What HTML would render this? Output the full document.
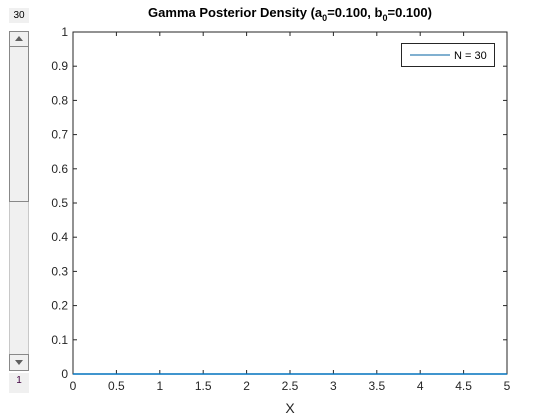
<!DOCTYPE html>
<html><head><meta charset="utf-8"><style>
body{margin:0;background:#fff;width:560px;height:420px;overflow:hidden;font-family:"Liberation Sans",sans-serif}
#wrap{position:relative;width:560px;height:420px;background:#fff}
.lbl{position:absolute;background:#f0f0f0;font-size:10px;text-align:center}
</style></head><body>
<div id="wrap">
<div class="lbl" style="left:9px;top:8px;width:20px;height:15px;line-height:15px">30</div>
<div class="lbl" style="left:9px;top:373px;width:20px;height:20px;line-height:16px;color:#400040">1</div>
<svg style="position:absolute;left:9px;top:31px" width="20" height="340">
<rect x="0" y="0" width="20" height="340" fill="#f0f0f0" stroke="#a0a0a0"/>
<rect x="0.5" y="0.5" width="19" height="15" fill="#f0f0f0" stroke="#888"/>
<polygon points="6,10 14,10 10,5" fill="#606060"/>
<rect x="0.5" y="15.5" width="19" height="155" fill="#f0f0f0" stroke="#888"/>
<rect x="0.5" y="323.5" width="19" height="16" fill="#f0f0f0" stroke="#888"/>
<polygon points="6,329 14,329 10,334" fill="#606060"/>
</svg>
<svg id="chart" width="560" height="420" style="position:absolute;left:0;top:0;pointer-events:none"></svg>
</div>
<script>
const xTicks=[0,0.5,1,1.5,2,2.5,3,3.5,4,4.5,5];
const xTickLabels=["0","0.5","1","1.5","2","2.5","3","3.5","4","4.5","5"];
const yTicks=[0,0.1,0.2,0.3,0.4,0.5,0.6,0.7,0.8,0.9,1];
const yTickLabels=["0","0.1","0.2","0.3","0.4","0.5","0.6","0.7","0.8","0.9","1"];
const seriesX=[0,0.5,1,1.5,2,2.5,3,3.5,4,4.5,5];
const seriesY=[0,0,0,0,0,0,0,0,0,0,0];
const L=73,R=507,T=32,B=374;
const sx=v=>L+(v-0)/(5-0)*(R-L);
const sy=v=>B-(v-0)/(1-0)*(B-T);
const svg=document.getElementById('chart');const NS='http://www.w3.org/2000/svg';
function mk(t,a,p){const e=document.createElementNS(NS,t);for(const k in a)e.setAttribute(k,a[k]);(p||svg).appendChild(e);return e;}
let e=mk('rect',{x:L,y:T,width:R-L,height:B-T,fill:'#fff',stroke:'#262626','stroke-width':1});


xTicks.forEach((v,i)=>{const x=sx(v);
mk('line',{x1:x,x2:x,y1:B,y2:B-4,stroke:'#262626'});mk('line',{x1:x,x2:x,y1:T,y2:T+4,stroke:'#262626'});
const t=mk('text',{x:x,y:B+16,'text-anchor':'middle','font-size':12,fill:'#262626'});t.textContent=xTickLabels[i];

});
yTicks.forEach((v,i)=>{const y=sy(v);
mk('line',{x1:L,x2:L+4,y1:y,y2:y,stroke:'#262626'});mk('line',{x1:R,x2:R-4,y1:y,y2:y,stroke:'#262626'});
const t=mk('text',{x:L-5,y:y+4,'text-anchor':'end','font-size':12,fill:'#262626'});t.textContent=yTickLabels[i];

});
const pl=mk('polyline',{points:seriesX.map((x,i)=>sx(x)+','+sy(seriesY[i])).join(' '),fill:'none',stroke:'#0072bd','stroke-width':1.5});


const xl=mk('text',{x:(L+R)/2,y:413,'text-anchor':'middle','font-size':14,fill:'#262626'});xl.textContent='X';


const ti=mk('text',{x:(L+R)/2,y:17,'text-anchor':'middle','font-size':13,'font-weight':'bold',fill:'#000'});
ti.innerHTML='Gamma Posterior Density (a<tspan font-size="9" dy="4">0</tspan><tspan dy="-4">=0.100, b</tspan><tspan font-size="9" dy="4">0</tspan><tspan dy="-4">=0.100)</tspan>';


const lg=mk('g',{});


mk('rect',{x:401.5,y:43.5,width:93,height:23,fill:'#fff',stroke:'#262626'},lg);
mk('line',{x1:410,x2:450,y1:55,y2:55,stroke:'#0060a0','stroke-width':1},lg);
const lt=mk('text',{x:454,y:59,'font-size':11,fill:'#000'},lg);lt.textContent='N = 30';


</script>
</body></html>
